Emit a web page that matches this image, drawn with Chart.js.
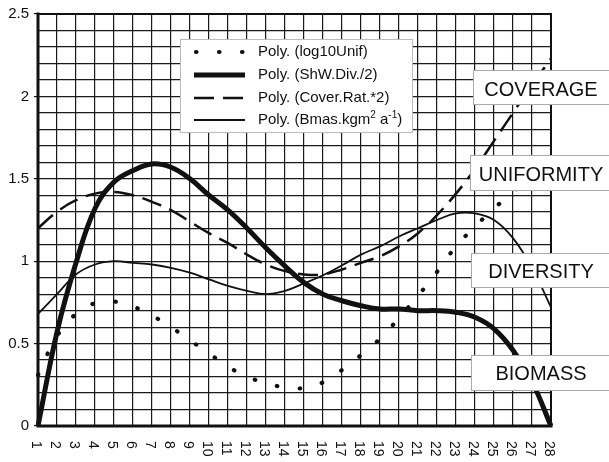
<!DOCTYPE html>
<html><head><meta charset="utf-8">
<script src="https://cdn.jsdelivr.net/npm/chart.js@4/dist/chart.umd.min.js"></script>
<style>html,body{margin:0;padding:0;background:#fff;}#wrap{width:609px;height:462px;}</style>
</head><body><div id="wrap"><canvas id="c" width="609" height="462"></canvas></div>
<script>
const categories = ['1','2','3','4','5','6','7','8','9','10','11','12','13','14','15','16','17','18','19','20','21','22','23','24','25','26','27','28'];
const log10Unif = [0.31,0.545,0.68,0.745,0.755,0.725,0.67,0.60,0.52,0.44,0.36,0.30,0.26,0.235,0.23,0.265,0.34,0.43,0.53,0.655,0.79,0.935,1.09,1.21,1.32,1.42,1.52,1.61];
const shwDiv = [0.0,0.57,0.99,1.32,1.48,1.55,1.59,1.57,1.50,1.40,1.31,1.20,1.08,0.97,0.87,0.80,0.76,0.73,0.71,0.71,0.70,0.70,0.69,0.66,0.59,0.46,0.27,0.0];
const coverRat = [1.20,1.30,1.37,1.41,1.42,1.40,1.36,1.31,1.24,1.17,1.11,1.04,0.98,0.94,0.92,0.92,0.95,0.99,1.03,1.09,1.17,1.28,1.41,1.56,1.73,1.90,2.07,2.23];
const bmas = [0.68,0.80,0.92,0.98,1.00,0.99,0.98,0.96,0.93,0.89,0.85,0.82,0.80,0.82,0.865,0.915,0.975,1.04,1.09,1.15,1.20,1.25,1.29,1.29,1.25,1.14,0.96,0.72];
const yTickLabels = ['0','0.5','1','1.5','2','2.5'];
const seriesNames = ['Poly. (log10Unif)','Poly. (ShW.Div./2)','Poly. (Cover.Rat.*2)','Poly. (Bmas.kgm2 a-1)'];
const sideLabels = ['COVERAGE','UNIFORMITY','DIVERSITY','BIOMASS'];

const FONT = "'Liberation Sans', Arial, Helvetica, sans-serif";
const INK = '#111';

const framePlugin = {
  id: 'frame',
  beforeDatasetsDraw(chart) {
    const {ctx, chartArea: a} = chart;
    ctx.save();
    ctx.strokeStyle = INK;
    ctx.lineCap = 'square';
    ctx.lineWidth = 2;
    ctx.beginPath();
    ctx.moveTo(a.left, a.top); ctx.lineTo(a.right, a.top); ctx.lineTo(a.right, a.bottom);
    ctx.stroke();
    ctx.lineWidth = 3;
    ctx.beginPath();
    ctx.moveTo(a.left, a.top); ctx.lineTo(a.left, a.bottom); ctx.lineTo(a.right, a.bottom);
    ctx.stroke();
    ctx.restore();
  }
};

const overlayPlugin = {
  id: 'overlay',
  afterDraw(chart) {
    const {ctx} = chart;
    const xs = chart.scales.x;
    ctx.save();
    ctx.fillStyle = INK;
    ctx.font = '14px ' + FONT;
    ctx.textAlign = 'left';
    ctx.textBaseline = 'middle';
    categories.forEach((lab, i) => {
      const x = xs.getPixelForTick(i) - 2;
      ctx.save();
      ctx.translate(x, 441);
      ctx.rotate(Math.PI / 2);
      ctx.fillText(lab, 0, 0);
      ctx.restore();
    });

    // legend box
    ctx.fillStyle = '#fff';
    ctx.fillRect(180, 39, 232, 93);
    ctx.strokeStyle = '#bbb';
    ctx.lineWidth = 1;
    ctx.strokeRect(180.5, 39.5, 232, 93);
    const rows = [52, 75, 98, 120];
    chart.data.datasets.forEach((ds, i) => {
      const y = rows[i];
      ctx.save();
      ctx.strokeStyle = ds.borderColor;
      ctx.lineWidth = ds.borderWidth;
      ctx.lineCap = ds.borderCapStyle || 'butt';
      ctx.setLineDash(ds.borderDash || []);
      ctx.beginPath();
      ctx.moveTo(i === 0 ? 196 : 194, y);
      ctx.lineTo(245, y);
      ctx.stroke();
      ctx.restore();
      ctx.fillStyle = INK;
      ctx.font = '15px ' + FONT;
      ctx.textAlign = 'left';
      ctx.textBaseline = 'middle';
      if (i === 3) {
        let x = 258;
        const parts = [['Poly. (Bmas.kgm', false], ['2', true], [' a', false], ['-1', true], [')', false]];
        parts.forEach(([t, sup]) => {
          ctx.font = (sup ? '10px ' : '15px ') + FONT;
          ctx.fillText(t, x, sup ? y - 5 : y);
          x += ctx.measureText(t).width;
        });
      } else {
        ctx.fillText(ds.label, 258, y);
      }
    });

    // side label boxes
    const boxes = [[473, 70, 140, 34, 90], [470, 155, 143, 35, 175], [471, 253, 142, 34, 272], [471, 355, 142, 35, 374]];
    boxes.forEach(([bx, by, bw, bh, ty], i) => {
      ctx.fillStyle = '#fff';
      ctx.fillRect(bx, by, bw, bh);
      ctx.strokeStyle = '#aaa';
      ctx.lineWidth = 1;
      ctx.strokeRect(bx + 0.5, by + 0.5, bw, bh);
      ctx.fillStyle = INK;
      ctx.font = '20px ' + FONT;
      ctx.textAlign = 'center';
      ctx.textBaseline = 'middle';
      ctx.fillText(sideLabels[i], 541, ty);
    });
    ctx.restore();
  }
};

const common = {pointRadius: 0, fill: false, tension: 0.4, borderColor: INK};
new Chart(document.getElementById('c'), {
  type: 'line',
  data: {
    labels: categories,
    datasets: [
      Object.assign({label: seriesNames[0], data: log10Unif, borderWidth: 4.2, borderDash: [0.5, 22.5], borderCapStyle: 'round'}, common),
      Object.assign({label: seriesNames[1], data: shwDiv, borderWidth: 5}, common),
      Object.assign({label: seriesNames[2], data: coverRat, borderWidth: 2.5, borderDash: [20, 9]}, common),
      Object.assign({label: seriesNames[3], data: bmas, borderWidth: 1.8}, common)
    ]
  },
  options: {
    responsive: false,
    animation: false,
    devicePixelRatio: 1,
    layout: {padding: {left: 0, right: 58, top: 13, bottom: 0}},
    plugins: {legend: {display: false}, tooltip: {enabled: false}},
    scales: {
      x: {
        type: 'category', offset: false,
        grid: {color: '#1a1a1a', lineWidth: 1.2, drawTicks: false},
        border: {display: false},
        ticks: {display: false},
        afterFit(s) { s.height = 36; }
      },
      y: {
        min: 0, max: 2.5,
        ticks: {
          stepSize: 0.1, autoSkip: false, padding: 5, color: INK,
          font: {family: FONT, size: 15},
          callback: (v) => { const l = yTickLabels.find(t => Math.abs(Number(t) - v) < 1e-6); return l === undefined ? '' : l; }
        },
        grid: {
          color: '#1a1a1a', lineWidth: 1.2, tickLength: 4,
          tickColor: (c) => (c.tick && yTickLabels.some(t => Math.abs(Number(t) - c.tick.value) < 1e-6)) ? INK : 'rgba(0,0,0,0)'
        },
        border: {display: false},
        afterFit(s) { s.width = 38; }
      }
    }
  },
  plugins: [framePlugin, overlayPlugin]
});
</script>
</body></html>
